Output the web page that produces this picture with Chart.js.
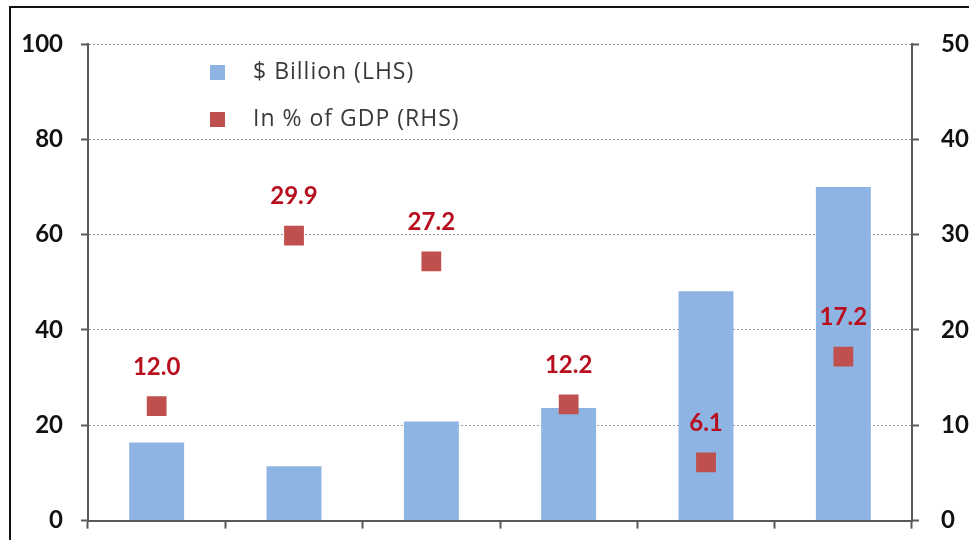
<!DOCTYPE html>
<html>
<head>
<meta charset="utf-8">
<script src="https://cdn.jsdelivr.net/npm/chart.js@4.4.1/dist/chart.umd.min.js"></script>
<style>
  html, body { margin: 0; padding: 0; background: #fff; overflow: hidden; }
  #wrap { position: relative; width: 969px; height: 540px; overflow: hidden; }
  #frame { position: absolute; left: 9px; top: 6px; width: 1000px; height: 600px; border: 2px solid #111; box-sizing: border-box; }
  canvas { position: absolute; left: 0; top: 0; }
</style>
</head>
<body>
<div id="wrap">
  <div id="frame"></div>
  <canvas id="chart" width="969" height="557"></canvas>
</div>
<script>
// Data
const categories = ["1", "2", "3", "4", "5", "6"];
const billionValues = [16.4, 11.4, 20.8, 23.6, 48.1, 70.0];
const gdpShareValues = [12.0, 29.9, 27.2, 12.2, 6.1, 17.2];
const leftTicks = [0, 20, 40, 60, 80, 100];
const rightTicks = [0, 10, 20, 30, 40, 50];

const barColor = "#8DB4E2";
const markerColor = "#C0504D";
const labelColor = "#B80E1E";

// Value labels above the red markers
const pointLabels = {
  id: "pointLabels",
  afterDatasetsDraw(chart) {
    const ctx = chart.ctx;
    const meta = chart.getDatasetMeta(1);
    ctx.save();
    ctx.font = "bold 24px Lato";
    ctx.fillStyle = labelColor;
    ctx.textAlign = "center";
    ctx.textBaseline = "middle";
    meta.data.forEach((pt, i) => {
      ctx.fillText(gdpShareValues[i].toFixed(1), pt.x, pt.y - 39);
    });
    ctx.restore();
  },
};

// Legend drawn inside the plot area, top-left
const innerLegend = {
  id: "innerLegend",
  afterDraw(chart) {
    const ctx = chart.ctx;
    const rows = [
      { text: chart.data.datasets[0].label, color: barColor, y: 72 },
      { text: chart.data.datasets[1].label, color: markerColor, y: 119 },
    ];
    ctx.save();
    ctx.font = "23px 'Open Sans'";
    ctx.letterSpacing = "1px";
    ctx.textBaseline = "middle";
    rows.forEach((r) => {
      ctx.fillStyle = r.color;
      ctx.fillRect(210, r.y - 7, 15, 15);
      ctx.fillStyle = "#3A3A3A";
      ctx.fillText(r.text, 253, r.y);
    });
    ctx.restore();
  },
};

const ctxChart = document.getElementById("chart").getContext("2d");

const chart = new Chart(ctxChart, {
  data: {
    labels: categories,
    datasets: [
      {
        type: "bar",
        label: "$ Billion (LHS)",
        data: billionValues,
        backgroundColor: barColor,
        yAxisID: "y",
        categoryPercentage: 1.0,
        barPercentage: 0.4,
        order: 2,
      },
      {
        type: "line",
        label: "In % of GDP (RHS)",
        data: gdpShareValues,
        showLine: false,
        pointStyle: "rect",
        pointRadius: 14,
        pointBackgroundColor: markerColor,
        pointBorderWidth: 0,
        yAxisID: "y2",
        order: 1,
      },
    ],
  },
  options: {
    responsive: false,
    animation: false,
    layout: { padding: { top: 44, bottom: 0, left: 0, right: 0 } },
    plugins: {
      legend: { display: false },
      tooltip: { enabled: false },
    },
    scales: {
      x: {
        type: "category",
        offset: true,
        ticks: { display: false },
        grid: {
          offset: true,
          drawOnChartArea: false,
          drawTicks: true,
          tickLength: 8,
          tickColor: "#595959",
          tickWidth: 2,
        },
        border: { display: true, color: "#595959", width: 2 },
        afterFit: (scale) => { scale.height = 3; },
      },
      y: {
        position: "left",
        min: 0,
        max: 100,
        afterBuildTicks: (scale) => { scale.ticks = leftTicks.map((v) => ({ value: v })); },
        ticks: {
          font: { family: "Lato", size: 24, weight: "bold" },
          color: "#111",
          padding: 18,
        },
        grid: {
          color: "#9A9A9A",
          lineWidth: 1,
          tickLength: 7,
          tickColor: "#595959",
          tickWidth: 2,
          tickBorderDash: [],
        },
        border: { display: true, color: "#595959", width: 2, dash: [2, 2] },
        afterFit: (scale) => { scale.width = 88; },
      },
      y2: {
        position: "right",
        min: 0,
        max: 50,
        afterBuildTicks: (scale) => { scale.ticks = rightTicks.map((v) => ({ value: v })); },
        ticks: {
          font: { family: "Lato", size: 24, weight: "bold" },
          color: "#111",
          padding: 22,
        },
        grid: {
          drawOnChartArea: false,
          tickLength: 7,
          tickColor: "#595959",
          tickWidth: 2,
        },
        border: { display: true, color: "#595959", width: 2 },
        afterFit: (scale) => { scale.width = 57; },
      },
    },
  },
  plugins: [pointLabels, innerLegend],
});
</script>
</body>
</html>
